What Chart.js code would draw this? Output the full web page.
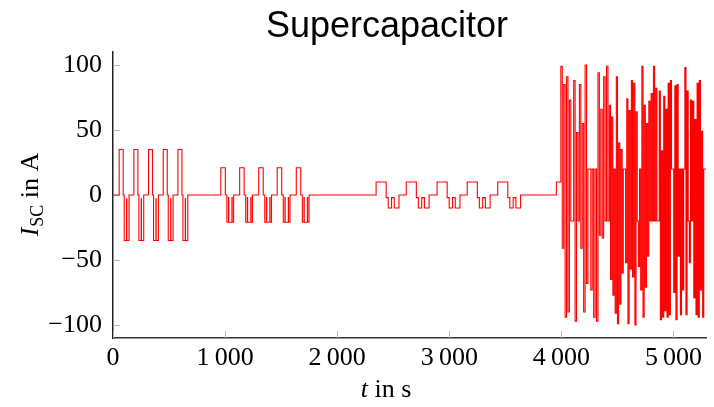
<!DOCTYPE html>
<html><head><meta charset="utf-8">
<script src="https://cdn.jsdelivr.net/npm/chart.js@4.4.0/dist/chart.umd.min.js"></script>
<style>html,body{margin:0;padding:0;background:#fff;}canvas{display:block;}</style>
</head><body>
<canvas id="c" width="714" height="407"></canvas>
<script>
// ---- data (time in s, current in A) ----
const titleText = "Supercapacitor";
const xTicks = [0, 1000, 2000, 3000, 4000, 5000];
const yTicks = [-100, -50, 0, 50, 100];

// block 1: +/-35 A pulses
const block1Times  = [0, 55, 91, 100, 121, 123, 143, 186, 222, 231, 252, 254, 274, 317, 353, 362, 383, 385, 405, 448, 484, 493, 514, 516, 536, 579, 615, 624, 645, 647, 667];
const block1Values = [0, 35, 0, -35, -3, -35, 0, 35, 0, -35, -3, -35, 0, 35, 0, -35, -3, -35, 0, 35, 0, -35, -3, -35, 0, 35, 0, -35, -3, -35, 0];
// block 2: +/-21 A pulses
const block2Times  = [962, 1002, 1016, 1031, 1033, 1061, 1063, 1076, 1130, 1170, 1184, 1199, 1201, 1229, 1231, 1244, 1300, 1340, 1354, 1369, 1371, 1399, 1401, 1414, 1465, 1505, 1519, 1534, 1536, 1564, 1566, 1579, 1635, 1675, 1689, 1704, 1706, 1734, 1736, 1749];
const block2Values = [21, 0, -21, -2, -21, -2, -21, 0, 21, 0, -21, -2, -21, -2, -21, 0, 21, 0, -21, -2, -21, -2, -21, 0, 21, 0, -21, -2, -21, -2, -21, 0, 21, 0, -21, -2, -21, -2, -21, 0];
// block 3: +/-10 A pulses, then small step before the random part
const block3Times  = [2347, 2437, 2455, 2485, 2509, 2551, 2616, 2706, 2724, 2754, 2778, 2820, 2891, 2981, 2999, 3029, 3053, 3095, 3160, 3250, 3268, 3298, 3322, 3364, 3432, 3522, 3540, 3570, 3594, 3636, 3955];
const block3Values = [10, -2, -10, -2, -10, 0, 10, -2, -10, -2, -10, 0, 10, -2, -10, -2, -10, 0, 10, -2, -10, -2, -10, 0, 10, -2, -10, -2, -10, 0, 10];
// block 4: random load profile, read in three windows
const chaosA = {start: 3995, end: 4428, values: [99, -41, 85, -94, 91, -90, 73, -20, -20, 88, -97, 48, -20, 85, -41, 55, -90, 100, -68, 20, 20, -73, 20, -94, 20, -97, 94, -31, 66, -33, 91, -20, 99, -20]};
const chaosB = {start: 4428, end: 4873, values: [69, -65, 60, -77, 20, -91, 91, -99, 40, -84, 35, -60, 20, 20, -52, 74, -99, 65, -57, 88, -63, 86, -100, 64, -20, -55, 20, -73, 99, -94, 69, -71, 55, -47, 72, -20, 78, -20, 99, -20, 82, -20, -20]};
const chaosC = {start: 4873, end: 5290, values: [80, -96, 34, -94, 76, -89, 66, -94, 86, -92, 88, 20, 20, -75, 84, -96, 85, -47, 20, -92, 20, -73, 20, 98, -92, 80, -20, -52, 73, -20, 72, -79, 58, -92, 86, -94, 88, -73, 49, -94, 20, 20]};
const tEnd = 5290;

// ---- build points ----
const pts = [];
function addBlock(ts, vs){ ts.forEach((t,i)=>pts.push({x:t, y:vs[i]})); }
addBlock(block1Times, block1Values);
addBlock(block2Times, block2Values);
addBlock(block3Times, block3Values);
[chaosA, chaosB, chaosC].forEach(c=>{
  const dt = (c.end - c.start) / c.values.length;
  c.values.forEach((v,i)=>pts.push({x:c.start + i*dt, y:v}));
});
pts.push({x:tEnd, y:pts[pts.length-1].y});

const SERIF = '"Liberation Serif", "Times New Roman", serif';
const SANS = '"Liberation Sans", Arial, sans-serif';
const fmt = v => { const s = String(Math.abs(v)); const g = s.length>3 ? s.slice(0,-3)+'\u2009'+s.slice(-3) : s; return (v<0?'\u2212':'')+g; };

const decor = {
  id:'decor',
  beforeDatasetsDraw(chart){
    const ctx=chart.ctx, a=chart.chartArea, xs=chart.scales.x, ys=chart.scales.y;
    ctx.save();
    ctx.strokeStyle='#b8b8b8'; ctx.lineWidth=1;
    xTicks.forEach(v=>{ const px=Math.round(xs.getPixelForValue(v))+0.5; ctx.beginPath(); ctx.moveTo(px,a.bottom); ctx.lineTo(px,a.bottom-7); ctx.stroke(); });
    yTicks.forEach(v=>{ const py=Math.round(ys.getPixelForValue(v))+0.5; ctx.beginPath(); ctx.moveTo(a.left,py); ctx.lineTo(a.left+7,py); ctx.stroke(); });
    ctx.restore();
  },
  afterDraw(chart){
    const ctx=chart.ctx;
    ctx.save();
    ctx.fillStyle='#000';
    // title
    ctx.font='36px '+SANS; ctx.textAlign='center'; ctx.textBaseline='middle';
    ctx.fillText(titleText, 387, 27);
    // x title: t in s
    ctx.textAlign='left'; ctx.textBaseline='alphabetic';
    const f1='italic 26px '+SERIF, f2='26px '+SERIF;
    ctx.font=f1; const w1=ctx.measureText('t').width;
    ctx.font=f2; const w2=ctx.measureText(' in s').width;
    let x0=386-(w1+w2)/2, base=397;
    ctx.font=f1; ctx.fillText('t', x0, base);
    ctx.font=f2; ctx.fillText(' in s', x0+w1, base);
    // y title: I_SC in A (rotated)
    ctx.translate(38,195); ctx.rotate(-Math.PI/2);
    const fs='18px '+SERIF;
    ctx.font=f1; const a1=ctx.measureText('I').width;
    ctx.font=fs; const a2=ctx.measureText('SC').width;
    ctx.font=f2; const a3=ctx.measureText(' in A').width;
    let s0=-(a1+a2+a3)/2;
    ctx.font=f1; ctx.fillText('I', s0, 0);
    ctx.font=fs; ctx.fillText('SC', s0+a1+1, 5);
    ctx.font=f2; ctx.fillText(' in A', s0+a1+1+a2, 0);
    ctx.restore();
  }
};

new Chart(document.getElementById('c'), {
  type:'line',
  data:{ datasets:[{ data:pts, borderColor:'#ff0000', borderWidth:1.1, pointRadius:0, stepped:true, tension:0, fill:false }]},
  options:{
    responsive:false, animation:false, devicePixelRatio:1,
    layout:{ padding:{ top:52, right:8, left:0, bottom:0 } },
    plugins:{ legend:{display:false}, tooltip:{enabled:false}, title:{display:false} },
    scales:{
      x:{ type:'linear', min:0, max:tEnd,
          afterBuildTicks: s => { s.ticks = xTicks.map(v=>({value:v})); },
          afterFit: s => { s.height = 69; },
          grid:{ display:true, drawOnChartArea:false, drawTicks:false },
          border:{ display:true, color:'#333', width:1.5 },
          ticks:{ padding:5, color:'#000', font:{family:SERIF, size:26}, maxRotation:0, autoSkip:false, callback:v=>fmt(v) } },
      y:{ type:'linear', min:-110, max:110,
          afterBuildTicks: s => { s.ticks = yTicks.map(v=>({value:v})); },
          afterFit: s => { s.width = 113; },
          grid:{ display:true, drawOnChartArea:false, drawTicks:false },
          border:{ display:true, color:'#222', width:1.5 },
          ticks:{ padding:11, color:'#000', font:{family:SERIF, size:26}, autoSkip:false, callback:v=>fmt(v) } }
    }
  },
  plugins:[decor]
});
</script>
</body></html>
